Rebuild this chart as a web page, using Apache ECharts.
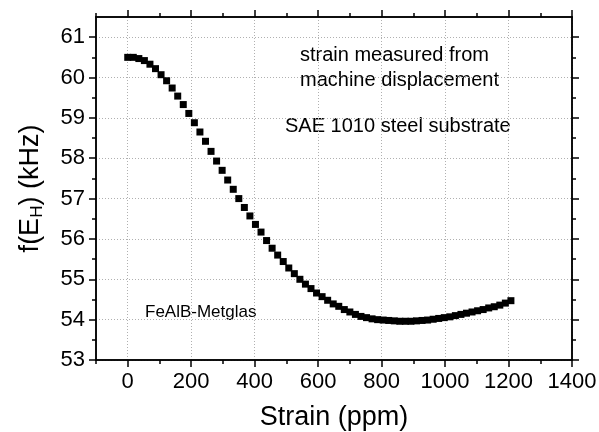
<!DOCTYPE html>
<html lang="en">
<head>
    <meta charset="UTF-8">
    <title>f(EH) vs strain</title>
    <style>
        html, body { margin: 0; padding: 0; background: #fff; }
        #chart { width: 599px; height: 432px; }
    </style>
</head>
<body>
<div id="chart"></div>

<script src="https://cdn.jsdelivr.net/npm/echarts@6/dist/echarts.min.js"></script>
<script>
    // strain (ppm)
    const strain = [0, 17.5, 35, 52.5, 70, 87.5, 105, 122.5, 140, 157.5,
        175, 192.5, 210, 227.5, 245, 262.5, 280, 297.5, 315, 332.5,
        350, 367.5, 385, 402.5, 420, 437.5, 455, 472.5, 490, 507.5,
        525, 542.5, 560, 577.5, 595, 612.5, 630, 647.5, 665, 682.5,
        700, 717.5, 735, 752.5, 770, 787.5, 805, 822.5, 840, 857.5,
        875, 892.5, 910, 927.5, 945, 962.5, 980, 997.5, 1015, 1032.5,
        1050, 1067.5, 1085, 1102.5, 1120, 1137.5, 1155, 1172.5, 1190, 1207.5];
    // f(E_H) in kHz
    const freq = [60.50, 60.50, 60.47, 60.42, 60.33, 60.22, 60.07, 59.92, 59.74, 59.54,
        59.33, 59.11, 58.88, 58.65, 58.42, 58.17, 57.93, 57.70, 57.46, 57.23,
        57.00, 56.78, 56.57, 56.36, 56.17, 55.96, 55.77, 55.60, 55.44, 55.28,
        55.14, 55.00, 54.88, 54.77, 54.66, 54.57, 54.48, 54.39, 54.33, 54.25,
        54.19, 54.13, 54.08, 54.05, 54.02, 54.00, 53.99, 53.98, 53.97, 53.96,
        53.96, 53.96, 53.97, 53.98, 53.99, 54.01, 54.03, 54.05, 54.07, 54.10,
        54.13, 54.16, 54.19, 54.22, 54.25, 54.29, 54.32, 54.36, 54.41, 54.47];

    const xMajor = [0, 200, 400, 600, 800, 1000, 1200, 1400];
    const xMinor = [-100, 100, 300, 500, 700, 900, 1100, 1300];
    const yMajor = [53, 54, 55, 56, 57, 58, 59, 60, 61];
    const yMinor = [53.5, 54.5, 55.5, 56.5, 57.5, 58.5, 59.5, 60.5];

    const FONT = 'Liberation Sans, Arial, sans-serif';
    const lineStyle = {color: '#000', width: 1.5};
    const gridLine = {show: true, lineStyle: {color: '#b0b0b0', type: [1, 2], width: 1}};

    function xAx(pos, ticks, len, opts) {
        return Object.assign({
            type: 'value', position: pos, min: -100, max: 1400, interval: 100,
            axisLine: {show: true, onZero: false, lineStyle: lineStyle},
            axisTick: {show: true, length: len, customValues: ticks, lineStyle: lineStyle},
            axisLabel: {show: false},
            splitLine: {show: false}
        }, opts || {});
    }

    function yAx(pos, ticks, len, opts) {
        return Object.assign({
            type: 'value', position: pos, min: 53, max: 61.5, interval: 1,
            axisLine: {show: true, onZero: false, lineStyle: lineStyle},
            axisTick: {show: true, length: len, customValues: ticks, lineStyle: lineStyle},
            axisLabel: {show: false},
            splitLine: {show: false}
        }, opts || {});
    }

    const chart = echarts.init(document.getElementById('chart'));
    chart.setOption({
        animation: false,
        backgroundColor: '#fff',
        grid: {left: 96, right: 27, top: 17, bottom: 72, containLabel: false, outerBoundsMode: 'none'},
        xAxis: [
            xAx('bottom', xMajor, 7, {
                axisLabel: {
                    show: true, customValues: xMajor, fontSize: 22, color: '#000', fontFamily: FONT, margin: 11,
                    formatter: v => String(v)
                },
                splitLine: gridLine,
                name: 'Strain (ppm)', nameLocation: 'middle', nameGap: 44,
                nameTextStyle: {fontSize: 27, color: '#000', fontFamily: FONT}
            }),
            xAx('bottom', xMinor, 4),
            xAx('top', xMajor, 7),
            xAx('top', xMinor, 4)
        ],
        yAxis: [
            yAx('left', yMajor, 7, {
                axisLabel: {
                    show: true, customValues: yMajor, fontSize: 22, color: '#000', fontFamily: FONT, margin: 11,
                    formatter: v => String(v)
                },
                splitLine: gridLine,
                name: '{a|f(E}{s|H}{a|) (kHz)}', nameLocation: 'middle', nameGap: 50,
                nameTextStyle: {
                    color: '#000',
                    rich: {
                        a: {fontSize: 27, fontFamily: FONT, color: '#000', lineHeight: 30, verticalAlign: 'middle'},
                        s: {fontSize: 17, fontFamily: FONT, color: '#000', lineHeight: 14, verticalAlign: 'bottom'}
                    }
                }
            }),
            yAx('left', yMinor, 4),
            yAx('right', yMajor, 7),
            yAx('right', yMinor, 4)
        ],
        graphic: [
            {type: 'text', left: 300, top: 45, style: {text: 'strain measured from', fontSize: 20, fontFamily: FONT, fill: '#000'}},
            {type: 'text', left: 300, top: 70, style: {text: 'machine displacement', fontSize: 20, fontFamily: FONT, fill: '#000'}},
            {type: 'text', left: 285, top: 116, style: {text: 'SAE 1010 steel substrate', fontSize: 20, fontFamily: FONT, fill: '#000'}},
            {type: 'text', left: 145, top: 304, style: {text: 'FeAlB-Metglas', fontSize: 17, fontFamily: FONT, fill: '#000'}}
        ],
        series: [
            {
                type: 'scatter',
                xAxisIndex: 0,
                yAxisIndex: 0,
                symbol: 'rect',
                symbolSize: 7,
                itemStyle: {color: '#000', opacity: 1},
                data: strain.map((v, i) => [v, freq[i]])
            }
        ]
    });
</script>
</body>
</html>
